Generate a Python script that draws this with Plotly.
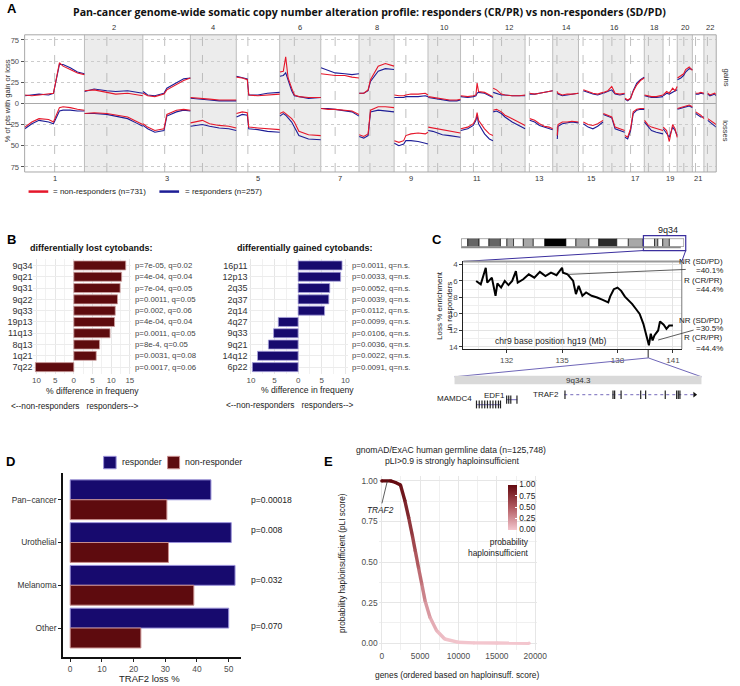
import numpy as np
import plotly.graph_objects as go
from plotly.colors import sample_colorscale

W, H = 740, 686
def PX(x): return x / W
def PY(y): return 1 - y / H

FONT = "Liberation Sans, Arial, sans-serif"
RED = "#e5172b"
BLUE = "#1e1e96"
NAVY = "#170a6e"
MAROON = "#5e0b0e"
TICKC = "#4d4d4d"

# ---------------- Panel A data ----------------
chrom_names = [str(i) for i in range(1, 23)]
chrom_len = [249.25, 243.2, 198.02, 191.15, 180.92, 171.12, 159.14, 146.36, 141.21, 135.53, 135.01,
             133.85, 115.17, 107.35, 102.53, 90.35, 81.2, 78.08, 59.13, 63.03, 48.13, 51.3]
centromere = [125.0, 93.3, 91.0, 50.4, 48.4, 61.0, 59.9, 45.6, 49.0, 40.2, 53.7, 35.8, 17.9, 17.6,
              19.0, 36.6, 24.0, 17.2, 26.5, 27.5, 13.2, 14.7]
cna_pos = [
    [1, 30, 60, 100, 120, 145, 160, 190, 220, 249],
    [1, 40, 93, 130, 180, 215, 243],
    [1, 20, 50, 88, 100, 140, 170, 198],
    [1, 30, 50, 80, 120, 160, 191],
    [1, 25, 46, 52, 90, 130, 181],
    [1, 15, 25, 35, 50, 61, 80, 120, 171],
    [1, 30, 60, 100, 130, 159],
    [1, 20, 38, 48, 80, 110, 146],
    [1, 20, 40, 49, 70, 100, 130, 141],
    [1, 20, 40, 60, 90, 120, 135],
    [1, 30, 53, 64, 69, 75, 100, 120, 135],
    [1, 15, 35, 50, 80, 110, 134],
    [19, 40, 60, 80, 100, 115],
    [19, 22, 40, 60, 80, 107],
    [20, 40, 60, 80, 102],
    [1, 20, 36, 50, 70, 90],
    [1, 12, 24, 35, 50, 65, 81],
    [1, 17, 30, 50, 78],
    [1, 15, 26, 40, 50, 59],
    [1, 15, 27, 35, 50, 63],
    [14, 25, 35, 48],
    [16, 25, 35, 45, 51],
]
gain_nr = [
    [10, 9, 10, 11, 12, 48, 44, 40, 36, 34],
    [15, 16, 13, 11, 12, 10, 9],
    [12, 9, 8, 11, 16, 22, 27, 30],
    [7, 6, 6, 5, 4, 4, 4],
    [31, 30, 28, 10, 9, 10, 11],
    [37, 38, 55, 30, 18, 10, 8, 7, 7],
    [35, 34, 33, 33, 31, 30],
    [12, 12, 16, 28, 44, 47, 44],
    [10, 9, 9, 10, 11, 11, 12, 10],
    [8, 7, 6, 5, 4, 4, 5],
    [9, 8, 9, 10, 24, 14, 13, 10, 8],
    [18, 16, 11, 10, 9, 9, 10],
    [12, 11, 12, 13, 14, 15],
    [14, 12, 10, 11, 11, 12],
    [16, 14, 12, 11, 13],
    [13, 15, 20, 12, 11, 12],
    [6, 4, 6, 14, 22, 27, 30],
    [10, 9, 8, 8, 10],
    [10, 14, 12, 18, 15, 20],
    [30, 33, 35, 40, 43, 39],
    [12, 12, 13, 12],
    [12, 10, 11, 12, 10],
]
gain_r = [
    [9, 10, 11, 10, 12, 46, 46, 42, 37, 35],
    [14, 17, 15, 14, 15, 13, 12],
    [14, 10, 9, 12, 18, 24, 29, 30],
    [6, 5, 5, 4, 3, 3, 3],
    [32, 30, 29, 10, 10, 12, 13],
    [32, 33, 36, 28, 15, 9, 8, 6, 7],
    [42, 39, 36, 35, 34, 35],
    [12, 12, 15, 26, 38, 41, 40],
    [7, 7, 7, 8, 8, 8, 9, 8],
    [7, 6, 5, 4, 3, 3, 4],
    [8, 7, 8, 9, 12, 13, 12, 9, 7],
    [13, 12, 10, 10, 9, 9, 9],
    [11, 11, 12, 13, 14, 15],
    [12, 11, 9, 10, 11, 12],
    [15, 13, 11, 10, 12],
    [12, 14, 16, 11, 10, 11],
    [5, 3, 6, 15, 24, 28, 31],
    [9, 8, 7, 7, 8],
    [9, 12, 11, 13, 14, 16],
    [28, 30, 33, 37, 41, 40],
    [11, 11, 12, 11],
    [11, 9, 10, 11, 9],
]
loss_nr = [
    [28, 22, 18, 19, 22, 5, 4, 5, 7, 8],
    [12, 11, 12, 14, 16, 21, 25],
    [24, 28, 32, 30, 13, 8, 7, 8],
    [23, 21, 20, 24, 26, 27, 29],
    [12, 10, 11, 28, 29, 30, 31],
    [12, 10, 12, 14, 18, 22, 33, 37, 38],
    [6, 7, 7, 8, 9, 13],
    [37, 39, 36, 8, 4, 4, 5],
    [44, 46, 44, 38, 36, 35, 36, 34],
    [28, 29, 30, 31, 33, 34, 35],
    [30, 28, 24, 18, 11, 20, 30, 36, 38],
    [8, 7, 10, 14, 18, 22, 26],
    [18, 20, 24, 27, 28, 30],
    [38, 25, 22, 22, 21, 22],
    [22, 25, 26, 24, 20],
    [12, 14, 16, 28, 30, 32],
    [38, 40, 30, 10, 7, 6, 6],
    [20, 26, 28, 30, 32],
    [28, 32, 45, 25, 30, 40],
    [6, 5, 4, 3, 2, 4],
    [10, 12, 14, 18],
    [18, 20, 22, 24, 25],
]
loss_r = [
    [30, 24, 20, 22, 24, 9, 8, 8, 9, 9],
    [12, 12, 13, 15, 18, 23, 27],
    [26, 30, 34, 32, 15, 10, 8, 9],
    [27, 26, 25, 27, 29, 30, 32],
    [16, 13, 14, 30, 31, 33, 34],
    [15, 12, 14, 17, 22, 28, 38, 42, 43],
    [6, 6, 7, 9, 10, 15],
    [39, 41, 38, 10, 8, 9, 10],
    [47, 50, 48, 44, 44, 45, 47, 48],
    [32, 33, 35, 37, 38, 39, 40],
    [32, 30, 26, 20, 14, 24, 36, 42, 44],
    [10, 9, 12, 16, 22, 26, 30],
    [20, 22, 26, 28, 30, 31],
    [42, 27, 24, 23, 22, 23],
    [24, 28, 30, 27, 22],
    [13, 15, 17, 30, 32, 34],
    [40, 42, 32, 12, 8, 7, 7],
    [22, 28, 32, 34, 36],
    [30, 35, 40, 28, 32, 38],
    [7, 6, 5, 4, 3, 5],
    [12, 14, 16, 16],
    [20, 22, 24, 26, 28],
]
a_ticks = [-75, -50, -25, 0, 25, 50, 75]
a_ticktext = ["75", "50", "25", "0", "25", "50", "75"]

# ---------------- Panel B data ----------------
lost_bands = ["9q34", "9q21", "9q31", "9q22", "9q33", "19p13", "11q13", "8q13", "1q21", "7q22"]
lost_diff = [13.9, 12.8, 12.4, 11.7, 11.1, 10.9, 9.7, 6.9, 6.0, -10.3]
lost_stats = ["p=7e-05, q=0.02", "p=4e-04, q=0.04", "p=7e-04, q=0.05", "p=0.0011, q=0.05",
              "p=0.002, q=0.06", "p=4e-04, q=0.04", "p=0.0011, q=0.05", "p=8e-4, q=0.05",
              "p=0.0031, q=0.08", "p=0.0017, q=0.06"]
gained_bands = ["16p11", "12p13", "2q35", "2q37", "2q14", "4q27", "9q33", "9q21", "14q12", "6p22"]
gained_diff = [9.3, 9.0, 6.7, 6.5, 5.6, -4.2, -5.2, -6.3, -8.6, -9.7]
gained_stats = ["p=0.0011, q=n.s.", "p=0.0033, q=n.s.", "p=0.0052, q=n.s.", "p=0.0039, q=n.s.",
                "p=0.0112, q=n.s.", "p=0.0099, q=n.s.", "p=0.0106, q=n.s.", "p=0.0036, q=n.s.",
                "p=0.0022, q=n.s.", "p=0.0091, q=n.s."]

# ---------------- Panel C data ----------------
c_pos = [130.35, 130.6, 130.87, 130.95, 131.2, 131.4, 131.5, 131.7, 131.9, 132.1, 132.3, 132.5,
         132.6, 132.9, 133.2, 133.5, 133.8, 134.1, 134.4, 134.7, 135.0, 135.05, 135.3, 135.6,
         135.75, 135.9, 136.1, 136.3, 136.6, 136.9, 137.2, 137.5, 137.6, 137.8, 138.0, 138.2,
         138.4, 138.6, 138.8, 139.0, 139.2, 139.4, 139.55, 139.7, 139.8, 139.9, 140.0, 140.2,
         140.3, 140.5, 140.65, 140.8, 141.0]
c_loss = [6.0, 6.4, 4.4, 6.2, 5.6, 7.8, 6.3, 6.8, 6.0, 6.5, 6.0, 4.8,
          6.2, 5.8, 5.2, 5.6, 4.9, 5.4, 5.0, 5.3, 4.4, 5.0, 5.2, 6.0,
          7.6, 6.6, 7.8, 7.4, 7.8, 8.0, 8.3, 8.6, 7.9, 7.0, 6.8, 7.2,
          7.9, 8.3, 8.8, 9.4, 10.0, 11.2, 12.5, 13.8, 12.4, 13.2, 12.6, 12.0,
          10.9, 11.3, 11.8, 11.4, 11.4]
band_start = [0, 4.2, 11.4, 17.6, 24.9, 29, 33.2, 39.4, 45.7, 53, 66.4, 72.7, 81, 87.2, 98.6,
              105.9, 115.3, 122.5, 124.6, 127.7, 131.9]
band_end = [4.2, 11.4, 17.6, 24.9, 29, 33.2, 39.4, 45.7, 53, 66.4, 72.7, 81, 87.2, 98.6, 105.9,
            115.3, 122.5, 124.6, 127.7, 131.9, 141.2]
band_stain = ["gneg", "gpos75", "gneg", "gpos75", "gneg", "gpos50", "gneg", "gpos50", "gneg",
              "gvar", "gneg", "gpos50", "gneg", "gpos100", "gneg", "gpos50", "gneg", "gpos50",
              "gneg", "gpos50", "gneg"]
stain_color = {"gneg": "#ffffff", "gpos50": "#a8a8a8", "gpos75": "#666666",
               "gpos100": "#2b2b2b", "gvar": "#000000"}
gene_names = ["TRAF2", "EDF1", "MAMDC4"]
gene_start = [139.780, 139.7379, 139.7157]
gene_end = [139.875, 139.7457, 139.7336]
traf2_exons = [139.7805, 139.8155, 139.8167, 139.8214, 139.8357, 139.8393, 139.8536, 139.8619,
               139.8631, 139.8643]
edf1_exons = [139.738, 139.7395, 139.741, 139.7455]
mamdc4_exons = [139.716, 139.718, 139.720, 139.722, 139.724, 139.726, 139.728, 139.730,
                139.732, 139.7335]
traf2_locus = 139.66

# ---------------- Panel D data ----------------
d_cats = ["Pan\u2212cancer", "Urothelial", "Melanoma", "Other"]
d_resp = [44.4, 50.8, 52.0, 50.0]
d_nonresp = [30.5, 31.0, 39.0, 22.3]
d_pvals = ["p=0.00018", "p=0.008", "p=0.032", "p=0.070"]

# ---------------- Panel E data ----------------
e_rank = [0, 1150, 1800, 2440, 3000, 3500, 4000, 4360, 4790, 5210, 5640, 6280, 7140, 8200,
          9900, 12000, 15000, 19200]
e_pli = [1.0, 1.0, 0.99, 0.975, 0.88, 0.775, 0.66, 0.57, 0.465, 0.365, 0.262, 0.16, 0.078,
         0.026, 0.006, 0.002, 0.001, 0.0]
traf2_rank, traf2_pli = 730, 1.0
pli_scale = [[0, "#f3c6ce"], [0.5, "#b25a60"], [1, "#63090f"]]

fig = go.Figure()
shapes = []
anns = []

def ann(text, x, y, size=8, color="#222", xanchor="center", yanchor="middle", bold=False,
        angle=0, align="center", family=FONT, xref="paper", yref="paper", xp=True, yp=True,
        xshift=0):
    anns.append(dict(text=("<b>%s</b>" % text) if bold else text,
                     x=PX(x) if xp else x, y=PY(y) if yp else y,
                     xref=xref, yref=yref, showarrow=False, xanchor=xanchor, yanchor=yanchor,
                     textangle=angle, align=align, xshift=xshift,
                     font=dict(size=size, color=color, family=family)))

def pline(x0, y0, x1, y1, color, width=1, dash="solid"):
    shapes.append(dict(type="line", xref="paper", yref="paper", x0=PX(x0), y0=PY(y0),
                       x1=PX(x1), y1=PY(y1), line=dict(color=color, width=width, dash=dash)))

# ================= Panel A =================
offsets = np.concatenate([[0], np.cumsum(chrom_len)[:-1]])
total = float(np.sum(chrom_len))

def build(vals_list, sign):
    xs, ys = [], []
    for ci, (pos, vals) in enumerate(zip(cna_pos, vals_list)):
        xs += [float(offsets[ci] + p) for p in pos] + [None]
        ys += [sign * v for v in vals] + [None]
    return xs, ys

for gains, losses, col, nm in [(gain_r, loss_r, BLUE, "responders"),
                                (gain_nr, loss_nr, RED, "non-responders")]:
    xg, yg = build(gains, 1)
    xl, yl = build(losses, -1)
    fig.add_trace(go.Scatter(x=xg + xl, y=yg + yl, mode="lines", name=nm,
                             line=dict(color=col, width=1.1), xaxis="x", yaxis="y",
                             hoverinfo="skip", showlegend=False))

for i, L in enumerate(chrom_len):
    x0 = float(offsets[i])
    if (i + 1) % 2 == 0:
        shapes.append(dict(type="rect", xref="x", yref="y domain", x0=x0, x1=x0 + L,
                           y0=0, y1=1, fillcolor="#ececec", line=dict(width=0), layer="below"))
    if i > 0:
        shapes.append(dict(type="line", xref="x", yref="y domain", x0=x0, x1=x0,
                           y0=0, y1=1, line=dict(color="#bdbdbd", width=1), layer="below"))
    c = x0 + centromere[i]
    shapes.append(dict(type="line", xref="x", yref="y domain", x0=c, x1=c, y0=0, y1=1,
                       line=dict(color="#b0b0b0", width=0.8, dash="dash"), layer="below"))
    ann(chrom_names[i], x0 + L / 2, 27 if (i + 1) % 2 == 0 else 178.5, size=7.5, color="#333",
        xref="x", xp=False)
shapes.append(dict(type="rect", xref="x domain", yref="y domain", x0=0, x1=1, y0=0, y1=1,
                   line=dict(color="#a8a8a8", width=1), layer="above"))

ann("A", 3, 8, size=13, bold=True, xanchor="left", color="#000")
ann("Pan-cancer genome-wide somatic copy number alteration profile: responders (CR/PR) vs non-responders (SD/PD)",
    374, 11.5, size=10.6, bold=True, color="#111", family="Open Sans, Liberation Sans, sans-serif")
ann("% of pts with gain or loss", 5, 100, size=7.5, angle=-90, color="#333")
ann("gains", 736, 77, size=7.5, angle=90, color="#333")
ann("losses", 736, 131, size=7.5, angle=90, color="#333")
pline(27, 191.7, 47, 191.7, RED, 2.5)
ann("= non-responders (n=731)", 50, 192, size=8, xanchor="left", color="#222")
pline(160, 191.7, 180, 191.7, BLUE, 2.5)
ann("= responders (n=257)", 184, 192, size=8, xanchor="left", color="#222")

# ================= Panel B =================
rows = list(range(len(lost_bands)))
fig.add_trace(go.Bar(x=lost_diff, y=rows, orientation="h", width=0.8, xaxis="x2", yaxis="y2",
                     marker=dict(color=MAROON, line=dict(color="#cfa3a3", width=0.8)),
                     hoverinfo="skip", showlegend=False))
fig.add_trace(go.Bar(x=gained_diff, y=rows, orientation="h", width=0.8, xaxis="x3", yaxis="y3",
                     marker=dict(color=NAVY, line=dict(color="#aaa3dd", width=0.8)),
                     hoverinfo="skip", showlegend=False))
for r in rows:
    ann(lost_stats[r], PX(133.3), r, size=7.8, color="#444", xanchor="left", yref="y2",
        xp=False, yp=False)
    ann(gained_stats[r], PX(353.3), r, size=7.8, color="#444", xanchor="left", yref="y3",
        xp=False, yp=False)
ann("B", 3, 240, size=13, bold=True, xanchor="left", color="#000")
ann("differentially lost cytobands:", 26, 248.5, size=9, bold=True, xanchor="left", color="#111")
ann("differentially gained cytobands:", 237, 248.5, size=9, bold=True, xanchor="left", color="#111")
ann("% difference in frequeny", 91.7, 392.5, size=8.6, color="#222")
ann("% difference in frequeny", 310.8, 391.5, size=8.6, color="#222")
ann("<--non-responders\u00a0\u00a0\u00a0responders-->", 74, 407, size=8.3, color="#222")
ann("<--non-responders\u00a0\u00a0\u00a0responders-->", 292.5, 406, size=8.3, color="#222")

# ================= Panel C =================
fig.add_trace(go.Scatter(x=c_pos, y=c_loss, mode="lines", line=dict(color="black", width=2),
                         xaxis="x4", yaxis="y4", hoverinfo="skip", showlegend=False))
fig.add_trace(go.Bar(x=[e - s for s, e in zip(band_start, band_end)], base=band_start,
                     y=[0] * len(band_start), orientation="h", width=1, xaxis="x5", yaxis="y5",
                     marker=dict(color=[stain_color[s] for s in band_stain],
                                 line=dict(color="black", width=0.6)),
                     hoverinfo="skip", showlegend=False))
gene_row = [0.7, 0.45, 0.2]
exon_sets = [traf2_exons, edf1_exons, mamdc4_exons]
for g in range(len(gene_names)):
    fig.add_trace(go.Scatter(x=[gene_start[g], gene_end[g]], y=[gene_row[g]] * 2, mode="lines",
                             line=dict(color="#8f86c8", width=1.2, dash="dot" if g == 0 else "solid"),
                             xaxis="x6", yaxis="y6", hoverinfo="skip", showlegend=False))
    fig.add_trace(go.Scatter(x=exon_sets[g], y=[gene_row[g]] * len(exon_sets[g]), mode="markers",
                             marker=dict(symbol="line-ns", size=6, line=dict(color="#222", width=1.2)),
                             xaxis="x6", yaxis="y6", hoverinfo="skip", showlegend=False))
fig.add_trace(go.Scatter(x=[gene_end[0]], y=[gene_row[0]], mode="markers",
                         marker=dict(symbol="triangle-right", size=5, color="#111"),
                         xaxis="x6", yaxis="y6", hoverinfo="skip", showlegend=False))
for g, yy, sh in [(0, 396, -3), (1, 396.5, 0), (2, 400, -2)]:
    ann(gene_names[g], gene_start[g], yy, size=8, color="#222", xanchor="right", xref="x6",
        xp=False, xshift=sh)

ann("C", 435, 240, size=13, bold=True, xanchor="left", color="#000")
ann("9q34", 677, 230.5, size=9, color="#222")
shapes.append(dict(type="rect", xref="paper", yref="paper", x0=PX(652), x1=PX(695), y0=PY(251),
                   y1=PY(236), line=dict(color="#3b2f9e", width=1.2)))
pline(466.7, 247.8, 690, 247.8, "#8a8a8a", 1.6)
pline(652, 251, 469, 262, "#3b2f9e", 1)
pline(695, 251, 691, 262, "#3b2f9e", 1)
pline(469, 262, 691, 262, "#9a9a9a", 2)
pline(691, 262, 691, 350, "#7a7a7a", 1)
shapes.append(dict(type="line", xref="x4", yref="paper", x0=traf2_locus, x1=traf2_locus,
                   y0=PY(351), y1=PY(359), line=dict(color="#222", width=1)))
pline(657, 359, 460, 378, "#6f66b8", 1)
pline(657, 359, 711, 378, "#6f66b8", 1)
shapes.append(dict(type="rect", xref="paper", yref="paper", x0=PX(460), x1=PX(711), y0=PY(385.5),
                   y1=PY(377), fillcolor="#d9d9d9", line=dict(width=0)))
ann("9q34.3", 585.5, 381.3, size=8, color="#333")
ann("Loss % enrichment<br>in responders", 449, 306, size=8, angle=-90, color="#222")
ann("chr9 base position hg19 (Mb)", 558, 342, size=8.6, color="#222")
for txt, yy in [("NR (SD/PD)", 262), ("=40.1%", 271.5), ("R (CR/PR)", 281.5), ("=44.4%", 290.5),
                ("NR (SD/PD)", 321), ("=30.5%", 329.5), ("R (CR/PR)", 338.5), ("=44.4%", 350)]:
    ann(txt, 735, yy, size=8, color="#222", xanchor="right")
pline(575, 275, 695, 270, "#333", 0.8)
pline(667, 341, 703, 331, "#333", 0.8)

# ================= Panel D =================
d_idx = list(range(len(d_cats)))
fig.add_trace(go.Bar(x=d_resp, y=d_idx, orientation="h", width=0.465, offset=-0.465,
                     xaxis="x7", yaxis="y7", marker=dict(color=NAVY, line=dict(color="#9990d8", width=1)),
                     hoverinfo="skip", showlegend=False))
fig.add_trace(go.Bar(x=d_nonresp, y=d_idx, orientation="h", width=0.465, offset=0,
                     xaxis="x7", yaxis="y7", marker=dict(color=MAROON, line=dict(color="#c98f8f", width=1)),
                     hoverinfo="skip", showlegend=False))
for i, pv in enumerate(d_pvals):
    ann(pv, PX(251.5), [0.0, 0.7, 1.87, 2.94][i], size=8.6, color="#222", xanchor="left",
        yref="y7", xp=False, yp=False)
ann("D", 2, 463, size=13, bold=True, xanchor="left", color="#000")
shapes.append(dict(type="rect", xref="paper", yref="paper", x0=PX(103.3), x1=PX(116), y0=PY(470.5),
                   y1=PY(458), fillcolor=NAVY, line=dict(color="#9990d8", width=1)))
shapes.append(dict(type="rect", xref="paper", yref="paper", x0=PX(168.3), x1=PX(180.5), y0=PY(470.5),
                   y1=PY(458), fillcolor=MAROON, line=dict(color="#c98f8f", width=1)))
ann("responder", 119.5, 464, size=8.8, color="#222", xanchor="left")
ann("non-responder", 184, 464, size=8.8, color="#222", xanchor="left")
ann("TRAF2 loss %", 150, 681, size=9.5, color="#222")

# ================= Panel E =================
for i in range(len(e_rank) - 1):
    col = sample_colorscale(pli_scale, [(e_pli[i] + e_pli[i + 1]) / 2])[0]
    fig.add_trace(go.Scatter(x=e_rank[i:i + 2], y=e_pli[i:i + 2], mode="lines",
                             line=dict(color=col, width=3.4), xaxis="x8", yaxis="y8",
                             hoverinfo="skip", showlegend=False))
fig.add_trace(go.Scatter(x=e_rank, y=e_pli, mode="markers",
                         marker=dict(size=3.2, color=e_pli, colorscale=pli_scale, cmin=0, cmax=1,
                                     line=dict(width=0)),
                         xaxis="x8", yaxis="y8", hoverinfo="skip", showlegend=False))
fig.add_trace(go.Scatter(x=[-5000, -5000], y=[-1, -1], mode="markers", xaxis="x8", yaxis="y8",
                         marker=dict(color=[0, 1], colorscale=pli_scale, cmin=0, cmax=1, size=1,
                                     showscale=True,
                                     colorbar=dict(x=PX(514), xanchor="left", y=PY(509), yanchor="middle",
                                                   len=45 / H, lenmode="fraction", thickness=9,
                                                   thicknessmode="pixels", xpad=0, ypad=0,
                                                   outlinewidth=0, tickvals=[0, 0.25, 0.5, 0.75, 1],
                                                   ticktext=["0.00", "0.25", "0.50", "0.75", "1.00"],
                                                   ticks="inside", ticklen=2, tickcolor="white",
                                                   tickfont=dict(size=8.3, color="#222", family=FONT))),
                         hoverinfo="skip", showlegend=False))
anns.append(dict(text="<i>TRAF2</i>", x=traf2_rank, y=traf2_pli, xref="x8", yref="y8",
                 showarrow=True, arrowhead=0, arrowwidth=0.8, arrowcolor="#333", ax=-7, ay=29,
                 font=dict(size=8.3, color="#222", family=FONT)))
ann("E", 325, 463, size=13, bold=True, xanchor="left", color="#000")
ann("gnomAD/ExAC human germline data (n=125,748)", 456, 452, size=8.6, color="#222")
ann("pLI>0.9 is strongly haploinsufficient", 457, 463, size=8.6, color="#222")
ann("probability<br>haploinsufficient", 538, 549.5, size=8.4, color="#222", xanchor="right",
    align="right")
ann("genes (ordered based on haploinsuff. score)", 463, 678, size=8.4, color="#222")
ann("probability haploinsufficient (pLI score)", 346, 565, size=8.2, angle=-90, color="#222")

# ================= Axes =================
tf = dict(size=7.6, color=TICKC, family=FONT)
base = dict(showgrid=False, zeroline=False, showline=False, ticks="", tickfont=tf)
fig.update_layout(
    width=W, height=H, autosize=False, margin=dict(l=0, r=0, t=0, b=0),
    paper_bgcolor="white", plot_bgcolor="white", barmode="overlay",
    font=dict(family=FONT, size=8, color="#222"), showlegend=False,
    xaxis=dict(base, domain=[PX(23), PX(726)], range=[0, total], showticklabels=False),
    yaxis=dict(base, domain=[PY(172), PY(34)], range=[-81, 81], tickvals=a_ticks, ticktext=a_ticktext,
               ticks="outside", ticklen=3, tickcolor="#555", showgrid=True, gridcolor="#cccccc",
               griddash="dot", gridwidth=0.8, zeroline=True, zerolinecolor="#a9a9a9",
               zerolinewidth=1.3),
    xaxis2=dict(base, domain=[PX(32), PX(131.1)], range=[-10.8, 15.3],
                tickvals=[-10, -5, 0, 5, 10, 15], ticktext=["10", "5", "0", "5", "10", "15"],
                showgrid=True, gridcolor="#e6e6e6", tickfont=dict(size=8, color=TICKC, family=FONT),
                minor=dict(tickvals=[-7.5, -2.5, 2.5, 7.5, 12.5], showgrid=True, gridcolor="#f1f1f1"),
                anchor="y2"),
    yaxis2=dict(base, domain=[PY(375.1), PY(259.2)], range=[9.6, -0.6], tickvals=rows,
                ticktext=lost_bands, showgrid=True, gridcolor="#ececec",
                tickfont=dict(size=9, color="#333", family=FONT), anchor="x2"),
    xaxis3=dict(base, domain=[PX(250.6), PX(352)], range=[-10.5, 10.62],
                tickvals=[-10, -5, 0, 5, 10], ticktext=["10", "5", "0", "5", "10"],
                showgrid=True, gridcolor="#e6e6e6", tickfont=dict(size=8, color=TICKC, family=FONT),
                minor=dict(tickvals=[-7.5, -2.5, 2.5, 7.5], showgrid=True, gridcolor="#f1f1f1"),
                anchor="y3"),
    yaxis3=dict(base, domain=[PY(375.1), PY(259.2)], range=[9.6, -0.6], tickvals=rows,
                ticktext=gained_bands, showgrid=True, gridcolor="#ececec",
                tickfont=dict(size=9, color="#333", family=FONT), anchor="x3"),
    xaxis4=dict(base, domain=[PX(469), PX(691)], range=[129.66, 141.48], tickvals=[132, 135, 138, 141],
                showgrid=True, gridcolor="#e3e3e3", ticks="outside", ticklen=3, tickcolor="#333",
                showline=True, linecolor="#222", linewidth=1,
                minor=dict(dtick=1.5, tick0=130.5, showgrid=True, gridcolor="#efefef"),
                tickfont=dict(size=8, color=TICKC, family=FONT), anchor="y4"),
    yaxis4=dict(base, domain=[PY(350), PY(262)], range=[14.24, 3.64], tickvals=[4, 6, 8, 10, 12, 14],
                showgrid=True, gridcolor="#e3e3e3", ticks="outside", ticklen=3, tickcolor="#333",
                showline=True, linecolor="#222", linewidth=1,
                minor=dict(dtick=1, tick0=5, showgrid=True, gridcolor="#efefef"),
                tickfont=dict(size=8, color=TICKC, family=FONT), anchor="x4"),
    xaxis5=dict(domain=[PX(466.7), PX(693.3)], range=[0, 141.2], visible=False, anchor="y5"),
    yaxis5=dict(domain=[PY(247), PY(239)], range=[-0.5, 0.5], visible=False, anchor="x5"),
    xaxis6=dict(domain=[PX(460), PX(711)], range=[139.70, 139.88], visible=False, anchor="y6"),
    yaxis6=dict(domain=[PY(410), PY(390)], range=[0, 1], visible=False, anchor="x6"),
    xaxis7=dict(base, domain=[PX(62), PX(243)], range=[-2.27, 53.9], tickvals=[0, 10, 20, 30, 40, 50],
                ticks="outside", ticklen=3, tickcolor="#222", showline=True, linecolor="#111",
                linewidth=1.5, tickfont=dict(size=8.4, color=TICKC, family=FONT), anchor="y7"),
    yaxis7=dict(base, domain=[PY(660), PY(475)], range=[3.68, -0.62], tickvals=d_idx, ticktext=d_cats,
                ticks="outside", ticklen=3, tickcolor="#222", showline=True, linecolor="#111",
                linewidth=1.5, tickfont=dict(size=8.4, color="#333", family=FONT), anchor="x7"),
    xaxis8=dict(base, domain=[PX(382.9), PX(543.6)], range=[-400, 20200],
                tickvals=[0, 5000, 10000, 15000, 20000], ticktext=["0", "5000", "10000", "15000", "20000"],
                showgrid=True, gridcolor="#e6e6e6",
                minor=dict(tickvals=[2500, 7500, 12500, 17500], showgrid=True, gridcolor="#f0f0f0"),
                tickfont=dict(size=8.4, color=TICKC, family=FONT), anchor="y8"),
    yaxis8=dict(base, domain=[PY(652.5), PY(477.8)], range=[-0.04, 1.03],
                tickvals=[0, 0.25, 0.5, 0.75, 1.0], ticktext=["0.00", "0.25", "0.50", "0.75", "1.00"],
                showgrid=True, gridcolor="#e6e6e6",
                minor=dict(tickvals=[0.125, 0.375, 0.625, 0.875], showgrid=True, gridcolor="#f0f0f0"),
                tickfont=dict(size=8.4, color=TICKC, family=FONT), anchor="x8"),
    shapes=shapes, annotations=anns,
)

fig.write_html("out.html", config={"displayModeBar": False},
               post_script="document.body.style.margin='0px';document.body.style.overflow='hidden';")
